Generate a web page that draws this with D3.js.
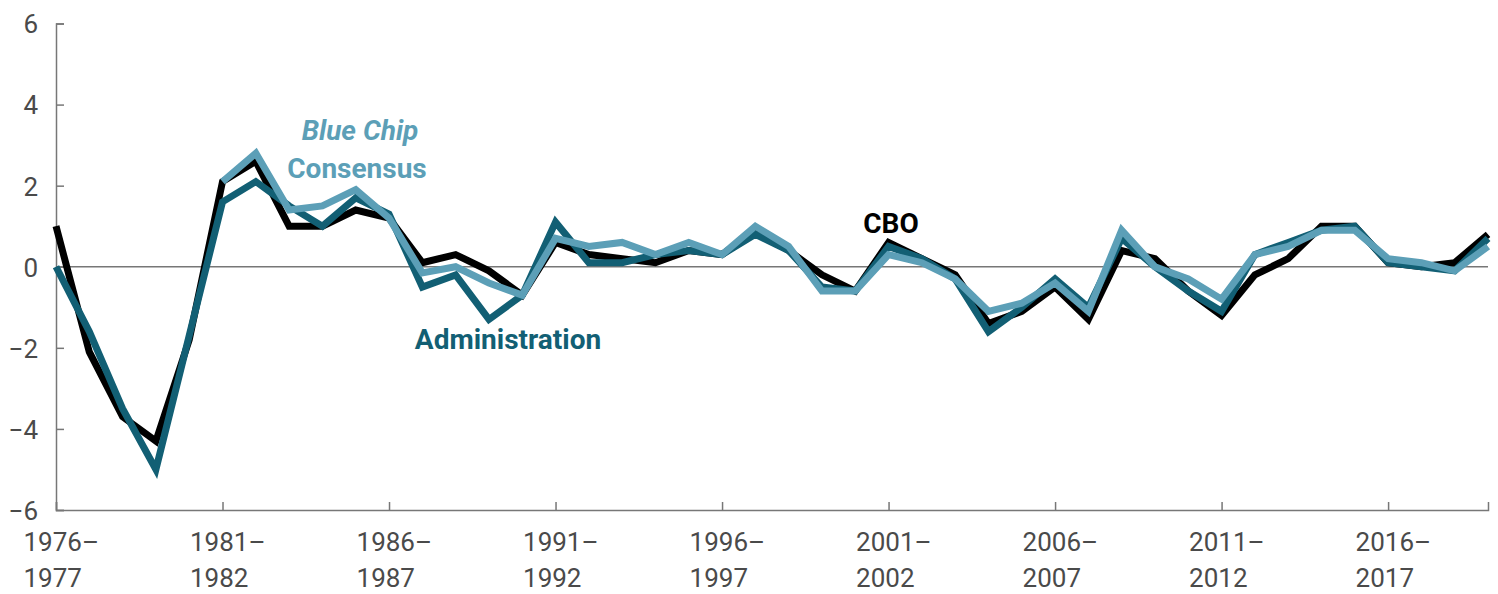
<!DOCTYPE html>
<html><head><meta charset="utf-8">
<script src="https://cdn.jsdelivr.net/npm/d3@7"></script>
<style>
body{margin:0;background:#fff;}
svg{display:block;}
</style></head>
<body>
<svg id="chart" width="1498" height="594"></svg>
<script>
const startYears = d3.range(1976, 2020);
const cbo = [1.0,-2.1,-3.7,-4.3,-1.8,2.1,2.6,1.0,1.0,1.4,1.2,0.1,0.3,-0.1,-0.7,0.6,0.3,0.2,0.1,0.4,0.3,0.9,0.4,-0.2,-0.6,0.6,0.2,-0.2,-1.4,-1.1,-0.5,-1.3,0.4,0.2,-0.6,-1.2,-0.2,0.2,1.0,1.0,0.1,0.0,0.1,0.8];
const administration = [0.0,-1.6,-3.5,-5.0,-1.7,1.6,2.1,1.5,1.0,1.7,1.3,-0.5,-0.2,-1.3,-0.7,1.1,0.1,0.1,0.3,0.4,0.3,0.8,0.4,-0.5,-0.6,0.5,0.2,-0.3,-1.6,-1.0,-0.3,-1.0,0.7,0.0,-0.6,-1.1,0.3,0.6,0.9,1.0,0.1,0.0,-0.1,0.7];
const blueChip = [null,null,null,null,null,2.1,2.8,1.4,1.5,1.9,1.2,-0.15,0.0,-0.4,-0.7,0.7,0.5,0.6,0.3,0.6,0.3,1.0,0.5,-0.6,-0.6,0.3,0.1,-0.3,-1.1,-0.9,-0.4,-1.1,0.9,0.0,-0.3,-0.8,0.3,0.5,0.9,0.9,0.2,0.1,-0.1,0.5];
const yTicks = [-6,-4,-2,0,2,4,6];
const xTickYears = [1976,1981,1986,1991,1996,2001,2006,2011,2016];

const svg = d3.select("#chart");
const x = d3.scaleLinear().domain([1976, 2019]).range([56, 1488]);
const y = d3.scaleLinear().domain([-6, 6]).range([510, 23.5]);
const font = "Roboto, 'Noto Sans', sans-serif";

// zero line
svg.append("line").attr("x1", x(1976)).attr("x2", x(2019)).attr("y1", y(0)).attr("y2", y(0))
  .attr("stroke", "#777").attr("stroke-width", 1.5);

// y axis
const ya = svg.append("g").attr("transform", `translate(${x(1976)},0)`)
  .call(d3.axisLeft(y).tickValues(yTicks).tickSize(-8).tickPadding(18).tickFormat(d => d < 0 ? "\u2212" + Math.abs(d) : d));
ya.select(".domain").attr("stroke", "#777").attr("stroke-width", 1.5);
ya.selectAll(".tick line").attr("stroke", "#777").attr("stroke-width", 1.5);
ya.selectAll(".tick text").attr("font-family", font).attr("font-size", 26).attr("fill", "#4a4a4a").attr("dy", "0.36em");

// x axis
const xa = svg.append("g").attr("transform", `translate(0,${y(-6)})`)
  .call(d3.axisBottom(x).tickValues(xTickYears).tickSize(-8).tickFormat(""));
xa.select(".domain").attr("stroke", "#777").attr("stroke-width", 1.5);
xa.selectAll(".tick line").attr("stroke", "#777").attr("stroke-width", 1.5);
xa.selectAll(".tick").each(function(d) {
  const t = d3.select(this).append("text").attr("font-family", font).attr("font-size", 26)
    .attr("fill", "#4a4a4a").attr("text-anchor", "start");
  t.append("tspan").attr("x", -33).attr("y", 41).text(d + "\u2013");
  t.append("tspan").attr("x", -33).attr("y", 77).text(d + 1);
});

const line = d3.line().defined(d => d[1] !== null).x(d => x(d[0])).y(d => y(d[1]));
const series = [
  {vals: cbo, color: "#000000"},
  {vals: administration, color: "#125f74"},
  {vals: blueChip, color: "#5c9fb7"}
];
series.forEach(s => {
  svg.append("path").datum(startYears.map((yr, i) => [yr, s.vals[i]]))
    .attr("d", line).attr("fill", "none").attr("stroke", s.color)
    .attr("stroke-width", 7).attr("stroke-linejoin", "miter").attr("stroke-miterlimit", 3);
});

// labels
const lab = (txt, xx, yy, color, italic) => svg.append("text").attr("x", xx).attr("y", yy)
  .attr("font-family", font).attr("font-weight", 700).attr("font-size", 28)
  .attr("font-style", italic ? "italic" : "normal").attr("fill", color).attr("text-anchor", "middle").text(txt);
lab("Blue Chip", 360, 140, "#5c9fb7", true);
lab("Consensus", 357, 178, "#5c9fb7", false);
lab("Administration", 508, 349, "#125f74", false);
lab("CBO", 891, 233, "#000000", false);
</script>
</body></html>
